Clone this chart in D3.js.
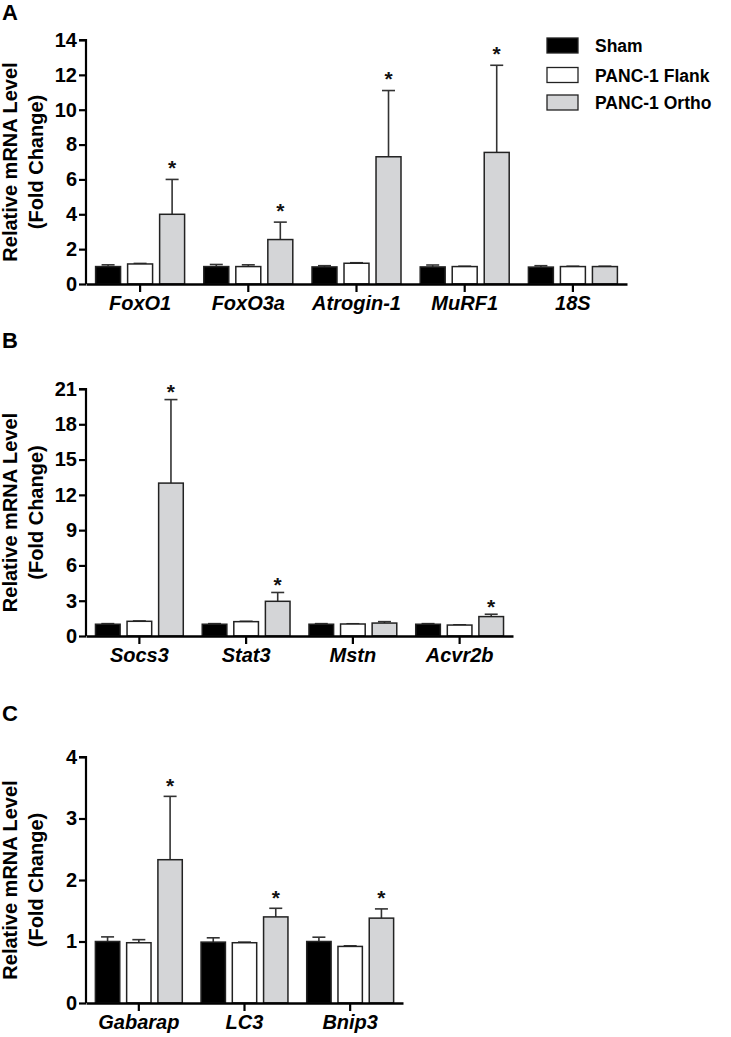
<!DOCTYPE html>
<html>
<head>
<meta charset="utf-8">
<script src="https://cdn.jsdelivr.net/npm/d3@7"></script>
<style>
  html, body { margin: 0; padding: 0; background: #fff; }
  svg { display: block; font-family: "Liberation Sans", Arial, Helvetica, sans-serif; }
</style>
</head>
<body>
<svg id="chart" width="731" height="1037"></svg>
<script>
// ---------- DATA ----------
const series = ["Sham", "PANC-1 Flank", "PANC-1 Ortho"];

// Panel A
const genesA = ["FoxO1", "FoxO3a", "Atrogin-1", "MuRF1", "18S"];
const shamA  = [1.0, 1.0, 0.98, 0.98, 0.97];
const flankA = [1.15, 1.0, 1.19, 1.0, 1.0];
const orthoA = [4.0, 2.55, 7.3, 7.55, 1.0];
const shamErrA  = [0.1, 0.12, 0.07, 0.11, 0.08];
const flankErrA = [0.03, 0.1, 0.03, 0.02, 0.02];
const orthoErrA = [2.0, 1.0, 3.8, 5.0, 0.02];
const sigA = [true, true, true, true, false];
const ticksA = [0, 2, 4, 6, 8, 10, 12, 14];

// Panel B
const genesB = ["Socs3", "Stat3", "Mstn", "Acvr2b"];
const shamB  = [1.0, 1.0, 1.0, 1.0];
const flankB = [1.25, 1.22, 1.02, 0.93];
const orthoB = [13.0, 2.95, 1.1, 1.65];
const shamErrB  = [0.05, 0.05, 0.05, 0.05];
const flankErrB = [0.03, 0.03, 0.02, 0.02];
const orthoErrB = [7.1, 0.75, 0.12, 0.2];
const sigB = [true, true, false, true];
const ticksB = [0, 3, 6, 9, 12, 15, 18, 21];

// Panel C
const genesC = ["Gabarap", "LC3", "Bnip3"];
const shamC  = [1.0, 0.99, 1.0];
const flankC = [0.98, 0.98, 0.92];
const orthoC = [2.33, 1.40, 1.38];
const shamErrC  = [0.075, 0.07, 0.07];
const flankErrC = [0.05, 0.01, 0.01];
const orthoErrC = [1.03, 0.14, 0.15];
const sigC = [true, true, true];
const ticksC = [0, 1, 2, 3, 4];

// ---------- STYLE ----------
const fills = ["#000000", "#ffffff", "#d4d5d7"];
const FONT = '"Liberation Sans", Arial, Helvetica, sans-serif';
const svg = d3.select("#chart");

function buildRows(genes, sham, flank, ortho, eS, eF, eO) {
  return genes.map((g, i) => ({
    gene: g,
    vals: [
      { s: series[0], v: sham[i], e: eS[i] },
      { s: series[1], v: flank[i], e: eF[i] },
      { s: series[2], v: ortho[i], e: eO[i] }
    ]
  }));
}

function drawPanel(cfg) {
  const { letter, letterY, rows, sig, ticks, yMax, x0r, y0, y1, starOff } = cfg;
  const g = svg.append("g");

  const y = d3.scaleLinear().domain([0, yMax]).range([y0, y1]);
  const x0 = d3.scaleBand().domain(rows.map(r => r.gene)).range(x0r).paddingInner(0).paddingOuter(0);
  const x1 = d3.scaleBand().domain(series).range([0, x0.bandwidth()]).paddingInner(0.22).paddingOuter(0.30);

  // panel letter
  g.append("text").attr("x", 2).attr("y", letterY)
    .attr("font-size", 22).attr("font-weight", "bold").attr("fill", "#000")
    .text(letter);

  // y axis label
  const cy = (y0 + y1) / 2;
  const lab = g.append("g").attr("transform", `translate(0,${cy}) rotate(-90)`);
  lab.append("text").attr("x", 0).attr("y", 16.5).attr("text-anchor", "middle")
    .attr("font-size", 20).attr("font-weight", "bold").attr("fill", "#000")
    .text("Relative mRNA Level");
  lab.append("text").attr("x", 0).attr("y", 42.5).attr("text-anchor", "middle")
    .attr("font-size", 20).attr("font-weight", "bold").attr("fill", "#000")
    .text("(Fold Change)");

  // bars
  const grp = g.selectAll("g.grp").data(rows).join("g")
    .attr("class", "grp")
    .attr("transform", d => `translate(${x0(d.gene)},0)`);

  // error bars (upward)
  grp.selectAll("g.err").data(d => d.vals).join("g").attr("class", "err")
    .each(function (d) {
      const cx = x1(d.s) + x1.bandwidth() / 2;
      const e = d3.select(this);
      e.append("line").attr("x1", cx).attr("x2", cx)
        .attr("y1", y(d.v)).attr("y2", y(d.v + d.e))
        .attr("stroke", "#333").attr("stroke-width", 1.6);
      e.append("line").attr("x1", cx - 6.5).attr("x2", cx + 6.5)
        .attr("y1", y(d.v + d.e)).attr("y2", y(d.v + d.e))
        .attr("stroke", "#333").attr("stroke-width", 1.6);
    });

  grp.selectAll("rect").data(d => d.vals).join("rect")
    .attr("x", d => x1(d.s))
    .attr("width", x1.bandwidth())
    .attr("y", d => y(d.v))
    .attr("height", d => y(0) - y(d.v))
    .attr("fill", (d, i) => fills[i])
    .attr("stroke", "#222").attr("stroke-width", 1.5);

  // significance stars
  grp.filter((d, i) => sig[i]).append("text")
    .attr("x", d => x1(series[2]) + x1.bandwidth() / 2)
    .attr("y", d => y(d.vals[2].v + d.vals[2].e) - starOff + 11.5)
    .attr("text-anchor", "middle")
    .attr("font-size", 21).attr("font-weight", "bold").attr("fill", "#111")
    .text("*");

  // axes
  const yAxis = d3.axisLeft(y).tickValues(ticks).tickSize(7).tickPadding(2).tickFormat(d3.format("d"));
  const ya = g.append("g").attr("transform", `translate(${x0r[0]},0)`).call(yAxis);
  ya.select(".domain").attr("d", `M-7,${y1}H0V${y0}`).attr("stroke", "#000").attr("stroke-width", 2.2);
  ya.selectAll(".tick line").attr("stroke", "#000").attr("stroke-width", 2.2);
  ya.selectAll(".tick text").attr("font-size", 20).attr("font-weight", "bold")
    .attr("font-family", FONT).attr("fill", "#000");

  const xAxis = d3.axisBottom(x0).tickSize(8).tickPadding(4).tickSizeOuter(0);
  const xa = g.append("g").attr("transform", `translate(0,${y0})`).call(xAxis);
  xa.select(".domain").attr("stroke", "#000").attr("stroke-width", 2.4);
  xa.selectAll(".tick line").attr("stroke", "#000").attr("stroke-width", 2.2);
  xa.selectAll(".tick text").attr("font-size", 20).attr("font-weight", "bold")
    .attr("font-style", "italic").attr("font-family", FONT).attr("fill", "#000");
}

drawPanel({
  letter: "A", letterY: 20,
  rows: buildRows(genesA, shamA, flankA, orthoA, shamErrA, flankErrA, orthoErrA),
  sig: sigA, ticks: ticksA, yMax: 14, x0r: [86, 627], y0: 284, y1: 40, starOff: 16
});
drawPanel({
  letter: "B", letterY: 348,
  rows: buildRows(genesB, shamB, flankB, orthoB, shamErrB, flankErrB, orthoErrB),
  sig: sigB, ticks: ticksB, yMax: 21, x0r: [86, 513], y0: 636, y1: 389, starOff: 12
});
drawPanel({
  letter: "C", letterY: 721,
  rows: buildRows(genesC, shamC, flankC, orthoC, shamErrC, flankErrC, orthoErrC),
  sig: sigC, ticks: ticksC, yMax: 4, x0r: [86, 403], y0: 1003, y1: 757, starOff: 15
});

// legend
const leg = svg.append("g");
const legY = [38, 67.5, 95];
series.forEach((s, i) => {
  leg.append("rect").attr("x", 547).attr("y", legY[i]).attr("width", 31).attr("height", 15)
    .attr("fill", fills[i]).attr("stroke", "#222").attr("stroke-width", 1.3);
  leg.append("text").attr("x", 595).attr("y", legY[i] + 14)
    .attr("font-size", 17.5).attr("font-weight", "bold").attr("fill", "#000")
    .text(s);
});
</script>
</body>
</html>
